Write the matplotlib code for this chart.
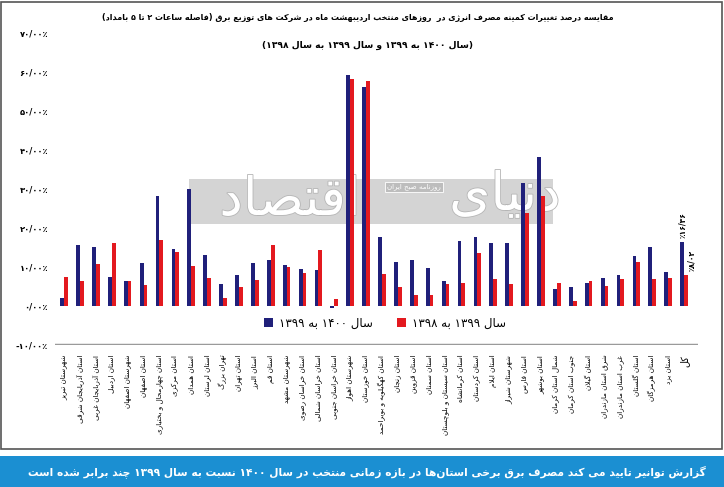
import re
import numpy as np
import matplotlib
matplotlib.use("Agg")
import matplotlib.pyplot as plt
from matplotlib.patches import Rectangle
import matplotlib.patheffects as pe

plt.rcParams['font.family'] = ['DejaVu Sans']

# --- data ---
labels = [
    "شهرستان تبریز", "استان آذربایجان شرقی", "استان آذربایجان غربی", "استان اردبیل",
    "شهرستان اصفهان", "استان اصفهان", "استان چهارمحال و بختیاری", "استان مرکزی",
    "استان همدان", "استان لرستان", "تهران بزرگ", "استان تهران", "استان البرز",
    "استان قم", "شهرستان مشهد", "استان خراسان رضوی", "استان خراسان شمالی",
    "استان خراسان جنوبی", "شهرستان اهواز", "استان خوزستان",
    "استان کهگیلویه و بویراحمد", "استان زنجان", "استان قزوین", "استان سمنان",
    "استان سیستان و بلوچستان", "استان کرمانشاه", "استان کردستان", "استان ایلام",
    "شهرستان شیراز", "استان فارس", "استان بوشهر", "شمال استان کرمان",
    "جنوب استان کرمان", "استان گیلان", "شرق استان مازندران", "غرب استان مازندران",
    "استان گلستان", "استان هرمزگان", "استان یزد", "کل",
]
# سال 1400 به 1399 (blue)
y1400 = [2.1, 15.7, 15.1, 7.5, 6.3, 11.0, 28.3, 14.7, 30.0, 13.2,
         5.6, 8.0, 10.9, 11.8, 10.5, 9.6, 9.2, -0.6, 59.2, 56.2,
         17.6, 11.4, 11.8, 9.7, 6.3, 16.6, 17.6, 16.2, 16.1, 31.5,
         38.1, 4.3, 4.9, 6.0, 7.3, 7.9, 12.8, 15.2, 8.8, 16.36]
# سال 1399 به 1398 (red)
y1399 = [7.4, 6.3, 10.8, 16.2, 6.3, 5.4, 16.9, 13.8, 10.2, 7.1,
         2.1, 4.8, 6.7, 15.6, 10.1, 8.4, 14.4, 1.7, 58.1, 57.8,
         8.2, 5.0, 2.7, 2.7, 5.6, 5.8, 13.5, 6.8, 5.6, 23.8,
         28.2, 6.0, 1.3, 6.3, 5.1, 7.0, 11.3, 7.0, 7.3, 8.02]
total_labels = ["٪۱۶/۳۶", "٪۸/۰۲"]
yticks = [-10, 0, 10, 20, 30, 40, 50, 60, 70]
ytick_labels = ["-۱۰/۰۰٪", "۰/۰۰٪", "۱۰/۰۰٪", "۲۰/۰۰٪", "۳۰/۰۰٪",
                "۴۰/۰۰٪", "۵۰/۰۰٪", "۶۰/۰۰٪", "۷۰/۰۰٪"]

title1 = "مقایسه درصد تغییرات کمینه مصرف انرژی در  روزهای منتخب اردیبهشت ماه در شرکت های توزیع برق (فاصله ساعات ۲ تا ۵ بامداد)"
title2 = "(سال ۱۴۰۰ به ۱۳۹۹ و سال ۱۳۹۹ به سال ۱۳۹۸)"
legend_labels = ["سال ۱۴۰۰ به ۱۳۹۹", "سال ۱۳۹۹ به ۱۳۹۸"]
footer = "گزارش توانیر تایید می کند مصرف برق برخی استان‌ها در بازه زمانی منتخب در سال ۱۴۰۰ نسبت به سال ۱۳۹۹ چند برابر شده است"

# --- minimal persian shaping (matplotlib has no text shaping) ---
# letter: (isolated, final, initial, medial)
FORMS = {
    'ا': ('\uFE8D', '\uFE8E', None, None), 'آ': ('\uFE81', '\uFE82', None, None),
    'أ': ('\uFE83', '\uFE84', None, None),
    'ب': ('\uFE8F', '\uFE90', '\uFE91', '\uFE92'), 'پ': ('\uFB56', '\uFB57', '\uFB58', '\uFB59'),
    'ت': ('\uFE95', '\uFE96', '\uFE97', '\uFE98'), 'ث': ('\uFE99', '\uFE9A', '\uFE9B', '\uFE9C'),
    'ج': ('\uFE9D', '\uFE9E', '\uFE9F', '\uFEA0'), 'چ': ('\uFB7A', '\uFB7B', '\uFB7C', '\uFB7D'),
    'ح': ('\uFEA1', '\uFEA2', '\uFEA3', '\uFEA4'), 'خ': ('\uFEA5', '\uFEA6', '\uFEA7', '\uFEA8'),
    'د': ('\uFEA9', '\uFEAA', None, None), 'ذ': ('\uFEAB', '\uFEAC', None, None),
    'ر': ('\uFEAD', '\uFEAE', None, None), 'ز': ('\uFEAF', '\uFEB0', None, None),
    'ژ': ('\uFB8A', '\uFB8B', None, None),
    'س': ('\uFEB1', '\uFEB2', '\uFEB3', '\uFEB4'), 'ش': ('\uFEB5', '\uFEB6', '\uFEB7', '\uFEB8'),
    'ص': ('\uFEB9', '\uFEBA', '\uFEBB', '\uFEBC'), 'ض': ('\uFEBD', '\uFEBE', '\uFEBF', '\uFEC0'),
    'ط': ('\uFEC1', '\uFEC2', '\uFEC3', '\uFEC4'), 'ظ': ('\uFEC5', '\uFEC6', '\uFEC7', '\uFEC8'),
    'ع': ('\uFEC9', '\uFECA', '\uFECB', '\uFECC'), 'غ': ('\uFECD', '\uFECE', '\uFECF', '\uFED0'),
    'ف': ('\uFED1', '\uFED2', '\uFED3', '\uFED4'), 'ق': ('\uFED5', '\uFED6', '\uFED7', '\uFED8'),
    'ک': ('\uFB8E', '\uFB8F', '\uFB90', '\uFB91'), 'گ': ('\uFB92', '\uFB93', '\uFB94', '\uFB95'),
    'ل': ('\uFEDD', '\uFEDE', '\uFEDF', '\uFEE0'), 'م': ('\uFEE1', '\uFEE2', '\uFEE3', '\uFEE4'),
    'ن': ('\uFEE5', '\uFEE6', '\uFEE7', '\uFEE8'), 'ه': ('\uFEE9', '\uFEEA', '\uFEEB', '\uFEEC'),
    'و': ('\uFEED', '\uFEEE', None, None),
    'ی': ('\uFBFC', '\uFBFD', '\uFBFE', '\uFBFF'), 'ي': ('\uFEF1', '\uFEF2', '\uFEF3', '\uFEF4'),
}
LAM_ALEF = {'ا': ('\uFEFB', '\uFEFC'), 'آ': ('\uFEF5', '\uFEF6'), 'أ': ('\uFEF7', '\uFEF8')}
MIRROR = {'(': ')', ')': '('}


def shape(text):
    out = []
    i, n = 0, len(text)
    while i < n:
        c = text[i]
        if c not in FORMS:
            out.append(c)
            i += 1
            continue
        prev = text[i - 1] if i > 0 else ''
        link_prev = prev in FORMS and FORMS[prev][2] is not None
        if c == 'ل' and i + 1 < n and text[i + 1] in LAM_ALEF:
            iso, fin = LAM_ALEF[text[i + 1]]
            out.append(fin if link_prev else iso)
            i += 2
            continue
        nxt = text[i + 1] if i + 1 < n else ''
        link_next = FORMS[c][2] is not None and nxt in FORMS
        iso, fin, ini, med = FORMS[c]
        if link_prev and link_next:
            out.append(med)
        elif link_prev:
            out.append(fin)
        elif link_next:
            out.append(ini)
        else:
            out.append(iso)
        i += 1
    return ''.join(out).replace('\u200c', '')


def fa(text):
    runs = re.findall(r'[0-9\u06F0-\u06F9]+(?:[/.][0-9\u06F0-\u06F9]+)*|.', shape(text))
    return ''.join(MIRROR.get(r, r) for r in reversed(runs))


# --- figure ---
W, H = 724, 487
fig = plt.figure(figsize=(W / 100, H / 100), dpi=100)
ax = fig.add_axes([55 / W, 1 - 345 / H, 643 / W, 312 / H])

blue = '#20207a'
red = '#e3191f'
x = np.arange(len(labels))
w = 0.24

# watermark (behind the bars)
ax.add_patch(Rectangle((189 / W, 1 - 224 / H), 364 / W, 45 / H, transform=fig.transFigure,
                       facecolor='#d4d4d4', edgecolor='none', zorder=0))
logo_fx = [pe.withStroke(linewidth=1.2, foreground='#b5b5b5')]
ax.text(290 / W, 1 - 200 / H, fa("اقتصاد"), transform=fig.transFigure,
        ha='center', va='center', fontsize=38, color='white', zorder=0.5, path_effects=logo_fx)
ax.text(505 / W, 1 - 195 / H, fa("دنیای"), transform=fig.transFigure,
        ha='center', va='center', fontsize=38, color='white', zorder=0.5, path_effects=logo_fx)
ax.text(414 / W, 1 - 187 / H, fa("روزنامه صبح ایران"), transform=fig.transFigure,
        ha='center', va='center', fontsize=5, color='white', zorder=0.6,
        bbox=dict(boxstyle='square,pad=0.3', facecolor='#bdbdbd', edgecolor='white', lw=0.6))

b1 = ax.bar(x - w / 2, y1400, w, color=blue, zorder=2)
b2 = ax.bar(x + w / 2, y1399, w, color=red, zorder=2)

# labels on the total bars
ax.text(x[-1] - w / 2, y1400[-1] + 1, total_labels[0], rotation=90, ha='center', va='bottom',
        fontsize=5.5, fontweight='bold')
ax.text(x[-1] + w / 2 + 0.1, y1399[-1] + 1, total_labels[1], rotation=90, ha='left', va='bottom',
        fontsize=5.5, fontweight='bold')

ax.set_xlim(-0.57, len(labels) - 1 + 0.88)
ax.set_ylim(-10, 70)
ax.axhline(-10, color='#9a9a9a', lw=2.5, zorder=3)
for s in ax.spines.values():
    s.set_visible(False)

ax.set_yticks(yticks)
ax.set_yticklabels(ytick_labels, fontsize=6, fontweight='bold')
ax.set_xticks(x)
ax.set_xticklabels([fa(l) for l in labels], rotation=90, fontsize=5.2)
ax.tick_params(axis='both', length=0)
ax.tick_params(axis='y', pad=5)
ax.tick_params(axis='x', pad=7)
ax.get_xticklabels()[-1].set_fontsize(7)

ax.legend([b1, b2], [fa(l) for l in legend_labels], loc='center', bbox_to_anchor=(0.513, 0.07),
          ncol=2, frameon=False, fontsize=8.5, handlelength=0.8, handleheight=0.8,
          handletextpad=0.5, columnspacing=2.0)

# titles
fig.text(358 / W, 1 - 18 / H, fa(title1), ha='center', va='center', fontsize=5.8,
         fontweight='bold')
fig.text(368 / W, 1 - 45 / H, fa(title2), ha='center', va='center', fontsize=6.6,
         fontweight='bold')

# frame and footer band
fig.patches.append(Rectangle((1 / W, 1 - 449 / H), 721 / W, 447 / H, transform=fig.transFigure,
                             fill=False, edgecolor='#555555', lw=1.2))
fig.patches.append(Rectangle((0, 0), 1, 31 / H, transform=fig.transFigure,
                             facecolor='#1b8fd2', edgecolor='none'))
fig.text(367 / W, 15 / H, fa(footer), ha='center', va='center', fontsize=7.7, fontweight='bold',
         color='white')

fig.savefig('out.png', dpi=100)
